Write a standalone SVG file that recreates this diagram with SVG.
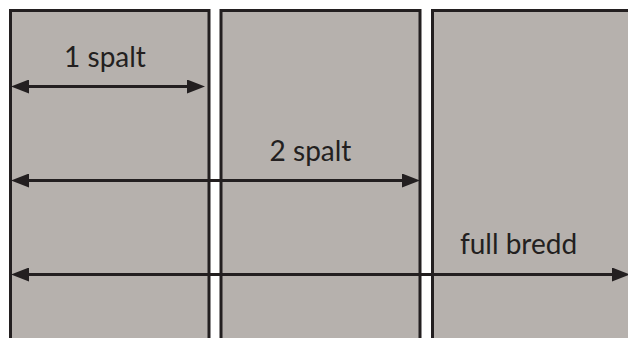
<svg xmlns="http://www.w3.org/2000/svg" width="628" height="338" viewBox="0 0 628 338">
  <style>
    .col { fill: #b6b1ad; stroke: #231f20; stroke-width: 3; }
    .dim { stroke: #231f20; stroke-width: 3; fill: none; marker-start: url(#head); marker-end: url(#head); }
    .lbl { font-family: Lato, "Open Sans", "Liberation Sans", sans-serif; font-weight: 400; font-size: 28px; fill: #231f20; text-anchor: middle; }
  </style>
  <defs>
    <marker id="head" markerUnits="userSpaceOnUse" markerWidth="18" markerHeight="14" viewBox="0 0 18 14" refX="8" refY="7" orient="auto-start-reverse">
      <path d="M0,0 L18,7 L0,14 Z" fill="#231f20"/>
    </marker>
  </defs>
  <rect width="628" height="338" fill="#ffffff"/>
  <g id="column-1">
    <rect class="col" x="10.5" y="10.5" width="198.5" height="340"/>
  </g>
  <g id="column-2">
    <rect class="col" x="221" y="10.5" width="199" height="340"/>
  </g>
  <g id="column-3">
    <rect class="col" x="432.5" y="10.5" width="220" height="340"/>
  </g>
  <g id="connectors">
    <line class="dim" x1="21" y1="86.5" x2="195" y2="86.5"/>
    <line class="dim" x1="21" y1="180.5" x2="410" y2="180.5"/>
    <line class="dim" x1="21" y1="274.5" x2="620" y2="274.5"/>
  </g>
  <g id="labels">
    <text class="lbl" x="105" y="66.5">1 spalt</text>
    <text class="lbl" x="310.5" y="160.5">2 spalt</text>
    <text class="lbl" x="518.5" y="253.5">full bredd</text>
  </g>
</svg>
